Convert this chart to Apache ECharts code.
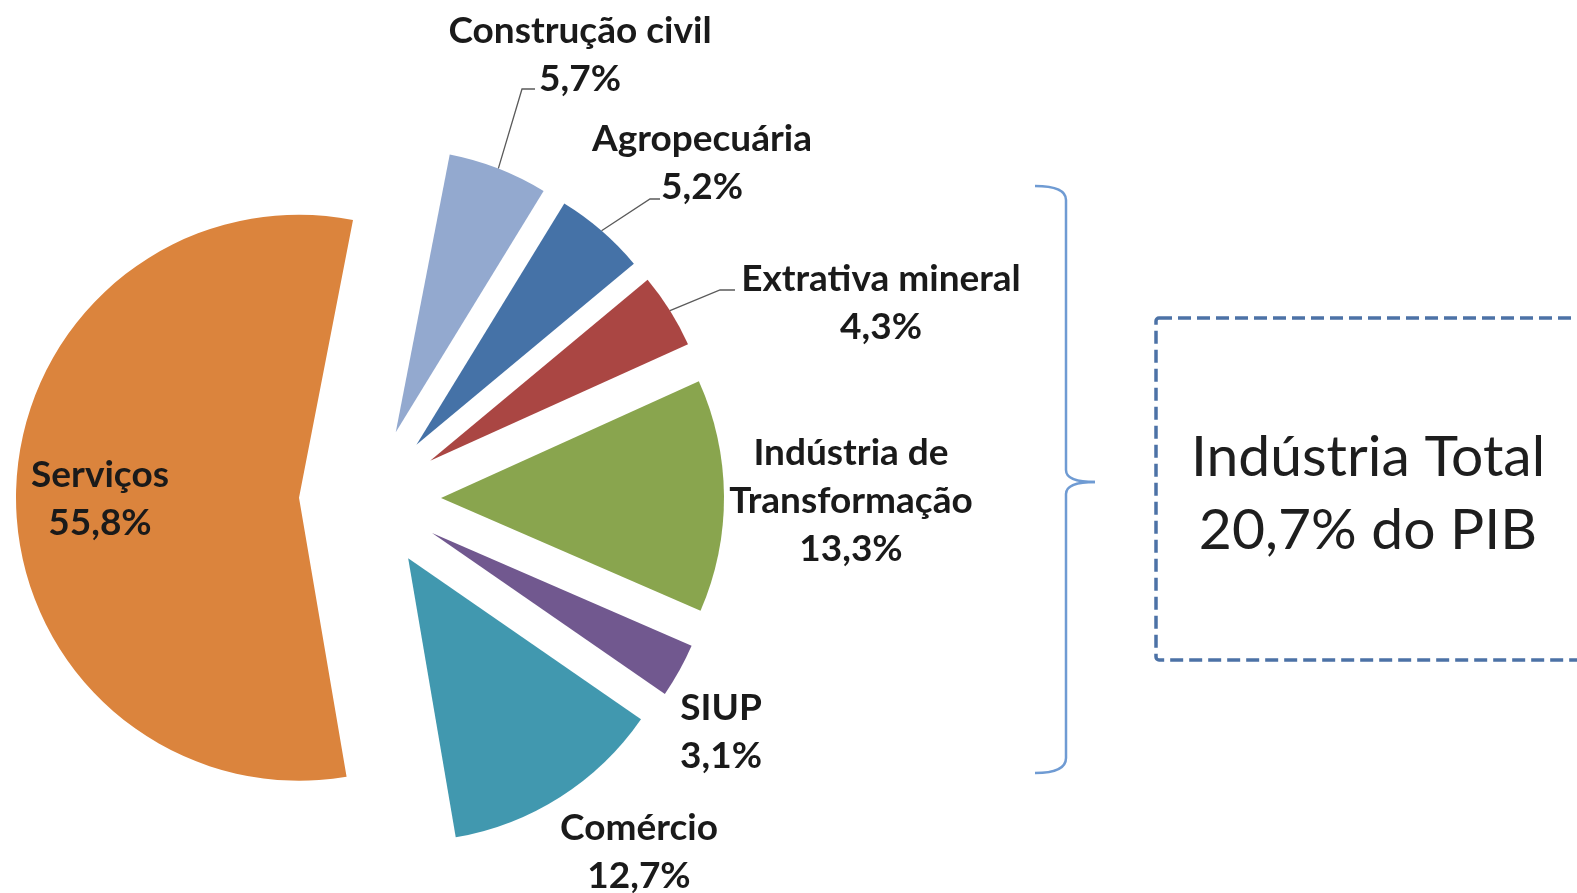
<!DOCTYPE html>
<html>
<head>
<meta charset="utf-8">
<script src="https://cdn.jsdelivr.net/npm/echarts@6/dist/echarts.min.js"></script>
<style>
html,body{margin:0;padding:0;background:#ffffff;}
#chart{width:1577px;height:893px;}
</style>
</head>
<body>
<div id="chart"></div>
<script>
// ---- data ----
const categories = ['Construção civil', 'Agropecuária', 'Extrativa mineral', 'Indústria de Transformação', 'SIUP', 'Comércio', 'Serviços'];
const labelNames = ['Construção civil', 'Agropecuária', 'Extrativa mineral', 'Indústria de\nTransformação', 'SIUP', 'Comércio', 'Serviços'];
const values = [5.7, 5.2, 4.3, 13.3, 3.1, 12.7, 55.8];
const totalLines = ['Indústria Total', '20,7% do PIB'];

// ---- layout / style ----
const COLORS = ['#93a9cf', '#4572a7', '#aa4643', '#89a54e', '#71588f', '#4198af', '#db843d'];
const CENTER = [370, 498.5];
const RADIUS = 283;
const EXPLODE = 71;
const START = 79;
const LABEL_POS = [[580, 55], [702, 163], [881, 303], [851, 501], [721, 732], [639, 852], [100, 499]];
const LEADER = [[[522, 89], [535, 89]], [[650, 199], [660, 199]], [[720, 290], [735, 290]], null, null, null, null];

const total = values.reduce((a, b) => a + b, 0);
let cum = 0;
const series = values.map((v, i) => {
  const midDeg = (90 - START) + 360 * (cum + v / 2) / total;
  cum += v;
  const rad = midDeg * Math.PI / 180;
  const cx = CENTER[0] + EXPLODE * Math.sin(rad);
  const cy = CENTER[1] - EXPLODE * Math.cos(rad);
  return {
    type: 'pie',
    silent: true,
    animation: false,
    clockwise: true,
    startAngle: START,
    center: [cx, cy],
    radius: [0, RADIUS],
    avoidLabelOverlap: false,
    emphasis: {disabled: true},
    data: values.map((val, j) => ({
      name: categories[j],
      value: val,
      itemStyle: {color: j === i ? COLORS[j] : 'rgba(0,0,0,0)'},
      label: {show: j === i},
      labelLine: {show: j === i && LEADER[j] != null}
    })),
    label: {
      position: i === 6 ? 'inside' : 'outside',
      formatter: p => labelNames[p.dataIndex] + '\n' + p.value.toFixed(1).replace('.', ',') + '%',
      fontFamily: 'Lato',
      fontWeight: 'bold',
      fontSize: 37,
      lineHeight: 48,
      color: '#1a1a1a'
    },
    labelLine: {
      length: 20, length2: 10,
      lineStyle: {color: '#5a5a5a', width: 1.3}
    },
    labelLayout: function (p) {
      const j = p.dataIndex;
      const res = {x: LABEL_POS[j][0], y: LABEL_POS[j][1], align: 'center', verticalAlign: 'middle'};
      if (LEADER[j] && p.labelLinePoints && p.labelLinePoints[0]) {
        const s = p.labelLinePoints[0];
        res.labelLinePoints = [[s[0], s[1]], LEADER[j][0], LEADER[j][1]];
      }
      return res;
    }
  };
});

const braceStyle = {stroke: '#6f9bd3', lineWidth: 2.5, fill: 'none'};
const chart = echarts.init(document.getElementById('chart'), null, {renderer: 'canvas'});
chart.setOption({
  backgroundColor: '#ffffff',
  animation: false,
  series: series,
  graphic: [
    {type: 'bezierCurve', silent: true, shape: {x1: 1035, y1: 186, cpx1: 1066, cpy1: 186, x2: 1066, y2: 200}, style: braceStyle},
    {type: 'line', silent: true, shape: {x1: 1066, y1: 200, x2: 1066, y2: 470}, style: braceStyle},
    {type: 'bezierCurve', silent: true, shape: {x1: 1066, y1: 470, cpx1: 1066, cpy1: 482, x2: 1095, y2: 482}, style: braceStyle},
    {type: 'bezierCurve', silent: true, shape: {x1: 1095, y1: 482, cpx1: 1066, cpy1: 482, x2: 1066, y2: 494}, style: braceStyle},
    {type: 'line', silent: true, shape: {x1: 1066, y1: 494, x2: 1066, y2: 758}, style: braceStyle},
    {type: 'bezierCurve', silent: true, shape: {x1: 1066, y1: 758, cpx1: 1066, cpy1: 773, x2: 1035, y2: 773}, style: braceStyle},
    {
      type: 'rect',
      silent: true,
      shape: {x: 1156, y: 318, width: 520, height: 342, r: 3},
      style: {fill: 'none', stroke: '#4c72a6', lineWidth: 3.5, lineDash: [13, 6]}
    },
    {
      type: 'text',
      silent: true,
      x: 1368, y: 458,
      style: {text: totalLines[0], fontFamily: 'Lato', fontSize: 57, fill: '#1e1e1e', align: 'center', verticalAlign: 'middle'}
    },
    {
      type: 'text',
      silent: true,
      x: 1368, y: 531,
      style: {text: totalLines[1], fontFamily: 'Lato', fontSize: 57, fill: '#1e1e1e', align: 'center', verticalAlign: 'middle'}
    }
  ]
});
</script>
</body>
</html>
